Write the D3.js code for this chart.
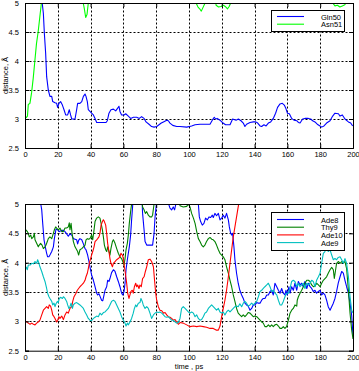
<!DOCTYPE html>
<html><head><meta charset="utf-8">
<script src="https://cdn.jsdelivr.net/npm/d3@7"></script>
<style>
body{margin:0;background:#fff;}
text{font-family:"Liberation Sans",Arial,sans-serif;font-size:7.5px;fill:#000;}
</style></head><body>
<svg id="c" width="359" height="371"></svg>
<script>
// ---- data ----
const timeTicks = [0,20,40,60,80,100,120,140,160,180,200];
const distTicks = [2.5,3,3.5,4,4.5,5];
const xLabel = "time , ps";
const yLabel = "distance, Å";

const topNames = ["Gln50","Asn51"];
const topColors = ["#0000ff","#00ff00"];
const bottomNames = ["Ade8","Thy9","Ade10","Ade9"];
const bottomColors = ["#0000ff","#008000","#ff0000","#00bfbf"];

const gln50 = [[10,5.3],[10.5,5.0],[11.2,4.82],[11.8,4.48],[12.6,4.13],[13.2,3.73],[14.2,3.5],[15.2,3.39],[16.3,3.39],[16.9,3.30],[18.3,3.28],[19.3,3.27],[19.9,3.20],[20.7,3.27],[21.7,3.30],[22.8,3.24],[23.8,3.16],[24.8,3.07],[26,3.07],[27,3.16],[27.8,3.07],[28.5,3.0],[30.5,3.0],[31.5,3.16],[32.1,3.27],[33.5,3.27],[34.6,3.30],[35.6,3.39],[36.6,3.43],[37.2,3.39],[38,3.30],[38.6,3.16],[39.6,3.13],[40.6,3.10],[41.7,3.07],[42.7,3.01],[43.7,2.94],[45.7,2.94],[49.4,2.94],[50.2,2.97],[51.2,3.10],[52.4,3.16],[53.9,3.17],[55.3,3.14],[56.3,3.18],[57.3,3.22],[57.9,3.13],[58.9,3.07],[60.4,3.07],[61.4,3.09],[63,3.05],[64.4,3.01],[66.1,3.03],[68.1,3.03],[69.7,3.01],[71.1,3.04],[72.6,3.01],[73.8,2.95],[75.6,2.91],[77.2,2.87],[78.7,2.86],[80.3,2.87],[81.7,2.90],[83.1,2.93],[84.4,2.95],[86.4,2.98],[87.4,2.97],[88.4,2.93],[90.1,2.89],[92.5,2.87],[94.5,2.87],[98.6,2.86],[101.6,2.88],[103.7,2.90],[106.7,2.91],[112.8,2.91],[114.2,2.98],[115.4,3.03],[116.2,3.0],[117.2,3.01],[118.9,2.98],[120.3,2.94],[122.3,2.90],[125,2.90],[126.6,3.0],[128.7,2.98],[130.1,3.0],[131.7,2.97],[133.1,2.93],[134.1,2.87],[135.1,2.91],[137.2,2.94],[139.2,2.95],[140.7,2.95],[141.9,2.93],[143.3,2.88],[144.3,2.87],[145.7,2.90],[147,2.88],[148.4,2.93],[149.8,2.95],[151.4,3.01],[152.8,3.10],[154,3.20],[155.5,3.26],[156.9,3.27],[158.1,3.24],[159.1,3.18],[160,3.10],[161.2,3.09],[162.6,3.01],[164,2.98],[165.7,2.97],[166.7,2.94],[167.7,2.93],[169.3,3.0],[170.7,3.01],[172.8,3.01],[174.2,3.0],[175.4,2.97],[176.8,2.95],[178.2,2.91],[179.9,2.88],[180.9,2.86],[182.3,2.88],[183.9,2.93],[186,2.97],[187.6,3.05],[189,3.10],[191.1,3.09],[192.1,3.05],[193.5,3.07],[195.1,3.0],[197.2,2.95],[198.6,2.93],[199.8,2.88]];

const asn51 = [[0.6,3.02],[1.5,3.05],[2,3.25],[3,3.27],[4,3.45],[5,3.7],[6,4.0],[7,4.3],[8,4.5],[9,4.75],[10,5.0],[11,5.5],[34,5.5],[35.5,5.0],[36.2,4.9],[37,4.75],[37.8,4.8],[38.6,5.0],[39.5,5.5],[103,5.5],[104.3,5.0],[105.5,4.93],[106.5,4.9],[107.5,4.86],[108.5,4.92],[109.8,5.0],[110.8,5.5],[115.5,5.5],[116.5,4.96],[118,4.93],[119.5,4.94],[121,4.96],[122.5,4.93],[123.5,4.9],[124.5,4.94],[125.4,5.0],[126.5,5.5],[186.5,5.5],[187.6,5.0],[189,4.95],[190.5,4.96],[192,4.93],[193.5,4.95],[195,4.97],[195.7,5.0],[196.7,5.5],[200,5.5]];

const ade8 = [[9,5.3],[9.6,5.0],[10.2,4.90],[10.8,4.67],[11.6,4.39],[12.6,4.24],[13.2,4.16],[13.8,4.10],[14.6,4.10],[15.2,4.13],[16.3,4.19],[17.3,4.27],[17.9,4.41],[18.9,4.57],[19.9,4.56],[20.9,4.53],[22.4,4.55],[23.4,4.55],[24.4,4.53],[25.4,4.49],[26.4,4.45],[27.4,4.49],[28.5,4.47],[29.5,4.41],[30.5,4.40],[31.5,4.39],[32.1,4.32],[32.7,4.38],[33.5,4.41],[34.6,4.39],[35.6,4.32],[36.6,4.24],[37.2,4.22],[38.2,4.13],[39,4.02],[39.6,3.93],[40.6,3.79],[41.7,3.70],[42.7,3.59],[43.7,3.48],[44.3,3.45],[45.1,3.47],[45.7,3.43],[46.7,3.36],[47.4,3.35],[48.2,3.45],[48.8,3.53],[49.8,3.59],[50.4,3.70],[51.2,3.68],[51.8,3.73],[52.8,3.83],[53.9,3.88],[54.9,3.85],[55.9,3.76],[56.9,3.68],[57.9,3.59],[58.9,3.48],[59.6,3.45],[60.4,3.51],[61,3.65],[61.6,3.88],[62.4,4.05],[63,4.16],[63.6,4.27],[64.4,4.47],[65,4.73],[65.6,4.95],[66.2,5.3],[71,5.3],[71.7,4.84],[72.6,4.56],[73.2,4.36],[74.2,4.30],[76.2,4.30],[77.8,4.30],[78.7,4.5],[79.3,4.78],[80.3,5.05],[81,5.3],[87,5.3],[87.6,5.0],[88.4,4.93],[89.4,4.9],[90.4,4.95],[91.2,4.9],[92,5.0],[92.6,5.3],[105,5.3],[105.7,5.0],[106.3,4.78],[107.1,4.70],[108.1,4.64],[109.1,4.67],[110.1,4.76],[111.2,4.73],[112.2,4.78],[113.2,4.77],[114.2,4.81],[114.8,4.77],[115.8,4.84],[116.8,4.80],[117.9,4.84],[118.9,4.73],[119.9,4.76],[120.9,4.81],[121.9,4.76],[122.9,4.84],[124,4.73],[124.6,4.61],[125.4,4.5],[126,4.47],[126.6,4.5],[127.4,4.27],[128,4.05],[129,3.82],[130,3.65],[131,3.53],[132.1,3.45],[133.1,3.39],[134.1,3.31],[135.1,3.28],[136.1,3.26],[137.2,3.19],[138.2,3.22],[139.2,3.28],[140.2,3.28],[141.3,3.32],[142.3,3.31],[143.3,3.31],[144.3,3.36],[145.3,3.39],[146.3,3.39],[147.4,3.45],[148.4,3.45],[149.4,3.51],[150.4,3.53],[151.4,3.45],[152.4,3.65],[153.5,3.59],[154.5,3.53],[155.5,3.48],[156.5,3.56],[157.5,3.48],[158.5,3.45],[159.1,3.53],[159.9,3.45],[160.9,3.59],[161.6,3.48],[162.6,3.59],[163.6,3.53],[164.6,3.65],[165.7,3.53],[166.7,3.68],[167.7,3.62],[168.7,3.65],[169.7,3.59],[170.7,3.68],[171.8,3.56],[172.8,3.65],[173.8,3.59],[174.8,3.56],[175.8,3.51],[176.8,3.53],[177.8,3.48],[178.9,3.51],[179.9,3.53],[180.9,3.45],[181.9,3.48],[182.9,3.45],[183.9,3.36],[184.9,3.25],[186,3.19],[187,3.25],[188,3.31],[189,3.39],[190,3.51],[191,3.65],[192.1,3.76],[193.1,3.85],[194.1,3.82],[195.1,3.70],[196.1,3.59],[197.2,3.48],[198.2,3.31],[199.2,3.1],[200,2.75]];

const thy9 = [[0.6,4.56],[1.4,4.53],[2,4.5],[2.6,4.44],[3.5,4.47],[4.1,4.41],[5.1,4.44],[5.7,4.5],[6.1,4.39],[7.1,4.33],[8.1,4.27],[8.7,4.30],[9.5,4.33],[10.4,4.30],[11.2,4.24],[12.2,4.27],[12.8,4.30],[13.6,4.36],[14.2,4.41],[15.2,4.44],[16.3,4.41],[17.3,4.5],[17.9,4.56],[18.7,4.61],[19.3,4.59],[20.3,4.56],[21.3,4.59],[22.4,4.53],[23.4,4.53],[24.4,4.59],[25.4,4.59],[26.4,4.61],[27,4.68],[27.4,4.56],[28.1,4.67],[28.7,4.5],[29.5,4.36],[30.5,4.27],[31.1,4.24],[32.1,4.19],[32.7,4.13],[33.5,4.22],[34.6,4.24],[35.6,4.27],[36.6,4.30],[37.2,4.39],[38,4.41],[38.6,4.40],[39.6,4.41],[40.6,4.47],[41.3,4.39],[42.1,4.56],[42.7,4.70],[43.7,4.76],[44.7,4.78],[45.7,4.76],[46.4,4.67],[47.2,4.56],[47.8,4.44],[48.4,4.30],[49.2,4.22],[49.8,4.19],[50.4,4.27],[51.2,4.19],[51.8,4.13],[52.4,4.24],[53.3,4.36],[53.9,4.39],[54.9,4.33],[55.9,4.24],[56.9,4.16],[57.9,4.10],[58.9,4.07],[59.6,4.02],[60.4,3.96],[61,4.07],[61.6,4.22],[62.4,4.33],[63,4.47],[63.6,4.67],[64.4,4.87],[65,5.0],[65.6,5.3],[70.8,5.3],[71.7,4.95],[72.6,4.90],[73.4,4.84],[74.2,4.87],[75.2,4.81],[76.2,4.78],[77.2,4.78],[77.8,4.81],[78.7,5.0],[79.3,5.3],[94,5.3],[94.5,4.97],[96.5,4.95],[98.6,4.96],[99.6,5.0],[100.6,4.95],[101.6,4.84],[102.7,4.76],[103.7,4.67],[104.7,4.53],[105.7,4.41],[106.7,4.36],[107.7,4.30],[108.7,4.27],[109.7,4.30],[110.7,4.36],[111.8,4.41],[112.8,4.43],[113.8,4.40],[114.8,4.39],[115.8,4.36],[116.8,4.30],[117.9,4.22],[118.9,4.16],[119.9,4.13],[120.9,4.10],[121.9,4.05],[122.9,3.93],[124,3.82],[125,3.70],[126,3.59],[127,3.45],[128,3.34],[129,3.22],[130,3.14],[131,3.11],[132.1,3.08],[133.1,3.11],[134.1,3.08],[135.1,3.11],[136.1,3.15],[137.2,3.14],[138.2,3.11],[139.2,3.08],[140.2,3.09],[141.3,3.08],[142.3,3.05],[143.3,3.02],[144.3,2.99],[145.3,2.97],[146.3,2.91],[147.4,2.91],[148.4,2.94],[149.4,2.91],[150.4,2.94],[151.4,2.91],[152.4,2.94],[153.5,2.95],[154.5,2.92],[155.5,2.88],[156.5,2.88],[157.5,2.91],[158.5,2.88],[159.5,2.91],[160.6,3.02],[161.6,3.14],[162.6,3.19],[163.6,3.22],[164.6,3.28],[165.7,3.26],[166,3.36],[166.7,3.42],[167.7,3.48],[168.7,3.53],[169.7,3.59],[170.7,3.65],[171.8,3.70],[172.8,3.70],[173.8,3.68],[174.8,3.62],[175.8,3.59],[176.8,3.60],[177.8,3.65],[178.9,3.62],[179.9,3.59],[180.9,3.65],[181.9,3.70],[182.9,3.73],[183.9,3.76],[184.9,3.82],[186,3.88],[187,3.92],[188,3.88],[188.6,3.73],[189.4,3.88],[190,3.99],[191,4.02],[192.1,3.99],[193.1,4.02],[194.1,4.0],[195.1,4.02],[196.1,3.90],[197.2,3.53],[198.2,3.14],[199.2,2.85],[200,2.70]];

const ade10 = [[0.6,3.0],[2,2.97],[3.1,2.95],[4.1,2.97],[5.1,2.95],[6.1,2.94],[7.1,2.97],[8.1,2.99],[9.1,3.02],[10.2,3.11],[11.2,3.19],[12.2,3.22],[13.2,3.25],[14.2,3.22],[14.8,3.28],[15.6,3.26],[16.3,3.19],[16.9,3.11],[17.7,3.08],[18.3,3.05],[19.3,2.99],[19.9,3.02],[20.7,3.08],[21.3,3.05],[22.4,3.09],[23.4,3.03],[24.4,3.11],[25.4,3.16],[26.4,3.14],[27.4,3.22],[28.5,3.25],[29.1,3.34],[29.9,3.42],[30.5,3.45],[31.1,3.48],[31.9,3.53],[32.7,3.56],[33.5,3.59],[34.6,3.62],[35.6,3.65],[36.6,3.70],[37.2,3.76],[38,3.82],[38.6,3.90],[39.2,3.99],[40,4.07],[40.6,4.13],[41.3,4.19],[42.1,4.27],[42.7,4.36],[43.7,4.39],[44.3,4.41],[45.1,4.44],[45.7,4.5],[46.4,4.64],[47.2,4.70],[47.8,4.73],[48.4,4.70],[49.2,4.64],[49.8,4.5],[50.4,4.33],[51.2,4.19],[51.8,4.07],[52.4,3.99],[53.3,3.93],[53.9,3.99],[54.9,4.02],[55.9,4.05],[56.9,4.07],[57.9,4.10],[58.5,4.16],[59.4,4.13],[60,4.07],[60.6,3.93],[61.2,3.82],[62,3.65],[62.6,3.48],[63.4,3.39],[64,3.45],[64.6,3.51],[65.4,3.53],[66,3.48],[66.7,3.59],[67.5,3.65],[68.1,3.59],[68.7,3.62],[69.5,3.56],[70.1,3.62],[70.9,3.59],[71.7,3.73],[72.6,3.76],[73.4,3.85],[74.2,3.93],[75.2,4.05],[76.2,4.06],[77.2,4.02],[78.3,3.93],[78.9,3.73],[79.7,3.48],[80.3,3.36],[81.3,3.25],[82.3,3.19],[83.4,3.18],[84.4,3.14],[85.4,3.15],[86.4,3.11],[87.4,3.08],[88.4,3.07],[89.4,3.05],[90.4,3.02],[91.5,3.03],[92.5,2.99],[93.5,2.95],[94.5,2.98],[96.5,2.97],[98.6,2.94],[100.6,2.91],[102.7,2.92],[104.7,2.91],[106.7,2.92],[108.7,2.91],[110.7,2.90],[112.8,2.88],[114.8,2.88],[116.8,2.85],[117.9,2.85],[118.9,2.92],[119.9,3.08],[120.9,3.22],[121.9,3.36],[122.9,3.53],[124,3.76],[125,3.99],[126,4.22],[127,4.44],[128,4.61],[129,4.78],[130,4.95],[130.6,5.04],[131.5,5.4]];

const ade9 = [[0.6,3.93],[1.4,3.88],[2,3.96],[3.1,3.96],[4.1,3.99],[5.1,3.98],[6.1,4.02],[7.1,3.99],[7.7,4.05],[8.5,3.99],[9.1,3.93],[10.2,3.85],[11.2,3.76],[12.2,3.68],[13.2,3.56],[13.8,3.48],[14.6,3.42],[15.2,3.39],[16.3,3.34],[16.9,3.28],[17.7,3.31],[18.3,3.25],[18.9,3.30],[19.7,3.34],[20.3,3.32],[20.9,3.39],[21.7,3.41],[22.8,3.39],[23.4,3.42],[24.4,3.39],[25.4,3.34],[26,3.28],[26.8,3.22],[27.4,3.25],[28.1,3.31],[28.9,3.22],[29.5,3.28],[30.5,3.31],[31.5,3.32],[32.5,3.30],[33.5,3.28],[34.6,3.25],[35.6,3.22],[36.6,3.16],[37.6,3.11],[38.6,3.05],[39.6,3.02],[40.6,3.01],[41.7,3.05],[42.7,3.07],[43.7,3.09],[44.7,3.08],[45.7,3.14],[46.7,3.11],[47.8,3.15],[48.8,3.16],[49.8,3.19],[50.8,3.22],[51.8,3.28],[52.8,3.34],[53.9,3.36],[54.9,3.34],[55.9,3.28],[56.9,3.22],[57.9,3.16],[58.9,3.08],[60,3.02],[61,2.97],[61.6,2.92],[62.4,2.97],[63,2.94],[64,2.99],[65,3.05],[66,3.14],[66.7,3.22],[67.5,3.28],[68.1,3.25],[69.1,3.31],[70.1,3.32],[70.7,3.39],[71.5,3.34],[72.1,3.28],[73.2,3.22],[74.2,3.25],[75.2,3.22],[76.2,3.14],[77.2,3.05],[78.3,3.11],[79.3,3.14],[80.3,3.16],[81.3,3.15],[82.3,3.16],[83.4,3.14],[84.4,3.11],[85.4,3.08],[86.4,3.07],[87.4,3.08],[88.4,3.05],[89.4,3.02],[90.4,3.02],[91.5,2.99],[92.5,2.97],[93.5,2.98],[94.5,3.05],[95.5,3.22],[96.5,3.25],[97.6,3.22],[98.6,3.19],[99.6,3.16],[100.6,3.14],[101.6,3.16],[102.7,3.14],[103.7,3.08],[104.7,3.11],[105.7,3.05],[106.7,3.02],[107.7,3.03],[108.7,3.08],[109.7,3.14],[110.7,3.16],[111.8,3.22],[112.8,3.25],[113.8,3.28],[114.8,3.25],[115.8,3.22],[116.8,3.19],[117.9,3.22],[118.9,3.16],[119.9,3.14],[120.9,3.16],[121.9,3.11],[122.9,3.16],[124,3.19],[125,3.16],[126,3.19],[127,3.22],[128,3.25],[129,3.26],[130,3.25],[131,3.30],[132.1,3.25],[133.1,3.31],[134.1,3.34],[135.1,3.31],[136.1,3.26],[137.2,3.28],[138.2,3.31],[139.2,3.28],[140.2,3.31],[141.3,3.34],[142.3,3.42],[143.3,3.51],[144.3,3.53],[145.3,3.56],[146.3,3.59],[147.4,3.62],[148.4,3.65],[149.4,3.59],[150.4,3.51],[151.4,3.53],[152.4,3.48],[153.5,3.45],[154.5,3.36],[155.5,3.28],[156.5,3.28],[157.5,3.34],[158.5,3.42],[159.5,3.48],[160.6,3.48],[161.6,3.56],[162.6,3.68],[163.6,3.70],[164.6,3.68],[165.7,3.59],[166.7,3.65],[167.7,3.59],[168.7,3.62],[169.7,3.65],[170.7,3.56],[171.8,3.65],[172.8,3.62],[173.8,3.65],[174.8,3.70],[175.8,3.68],[176.8,3.59],[177.8,3.70],[178.9,3.76],[179.9,3.82],[180.9,3.99],[181.9,4.16],[182.9,4.19],[183.4,4.30],[183.9,4.27],[184.9,4.19],[186,4.22],[187,4.13],[188,4.05],[189,4.07],[190,4.05],[191,4.09],[192.1,4.10],[193.1,4.05],[194.1,3.99],[195.1,4.07],[196.1,3.99],[197.2,3.76],[198.2,3.42],[199.2,3.19],[200,3.14]];

// ---- drawing ----
const svg = d3.select("#c");
const L = 25, R = 353;

function panel(id, top, bottom, series, names, colors, legendBox, rowY, showX) {
  const x = d3.scaleLinear().domain([0,200]).range([L,R]);
  const y = d3.scaleLinear().domain([2.5,5]).range([bottom,top]);
  const g = svg.append("g");
  const defs = g.append("defs");
  defs.append("clipPath").attr("id",id).append("rect")
    .attr("x",L).attr("y",top).attr("width",R-L).attr("height",bottom-top);
  // grid (dotted), drawn through the same scales as the data
  const gridV = timeTicks.slice(1,-1).map(t => [[t,2.5],[t,5]]);
  const gridH = distTicks.slice(1,-1).map(v => [[0,v],[200,v]]);
  const gline = d3.line().x(d=>Math.round(x(d[0]))+0.5).y(d=>Math.round(y(d[1]))+0.5);
  g.append("g").selectAll("path").data(gridV.concat(gridH)).join("path")
    .attr("d",gline).attr("fill","none").attr("stroke","#000")
    .attr("stroke-width",1).attr("stroke-dasharray","2,2");
  // lines
  const line = d3.line().x(d=>x(d[0])).y(d=>y(d[1]));
  const lg = g.append("g").attr("clip-path",`url(#${id})`);
  series.forEach((s,i)=> lg.append("path").attr("d",line(s)).attr("fill","none")
    .attr("stroke",colors[i]).attr("stroke-width",1.1).attr("stroke-linejoin","round"));
  // axes
  const ax = g.append("g");
  ax.append("g").attr("transform",`translate(0,${bottom})`)
    .call(d3.axisBottom(x).tickValues(timeTicks).tickSize(-4).tickPadding(4).tickFormat(d3.format("d")));
  ax.append("g").attr("transform",`translate(0,${top})`)
    .call(d3.axisTop(x).tickValues(timeTicks).tickSize(-4).tickFormat(""));
  ax.append("g").attr("transform",`translate(${L},0)`)
    .call(d3.axisLeft(y).tickValues(distTicks).tickSize(-4).tickPadding(6).tickFormat(d=>String(d)));
  ax.append("g").attr("transform",`translate(${R},0)`)
    .call(d3.axisRight(y).tickValues(distTicks).tickSize(-4).tickFormat(""));
  ax.selectAll(".domain").attr("stroke","#000");
  ax.selectAll(".tick line").attr("stroke","#000");
  ax.selectAll(".tick text").style("font-family","'Liberation Sans',Arial,sans-serif").style("font-size","7.5px");
  // y label
  g.append("text").attr("transform",`translate(8,${(top+bottom)/2}) rotate(-90)`)
    .attr("text-anchor","middle").text(yLabel);
  if (showX) g.append("text").attr("x",(L+R)/2).attr("y",bottom+18).attr("text-anchor","middle").text(xLabel);
  // legend
  g.append("rect").attr("x",legendBox[0]+0.5).attr("y",legendBox[1]+0.5)
    .attr("width",legendBox[2]-legendBox[0]).attr("height",legendBox[3]-legendBox[1])
    .attr("fill","#fff").attr("stroke","#000");
  names.forEach((n,i)=>{
    const yy = rowY[0] + i*rowY[1];
    g.append("line").attr("x1",277).attr("x2",304).attr("y1",yy).attr("y2",yy)
      .attr("stroke",colors[i]).attr("stroke-width",1.1);
    g.append("text").attr("x",321).attr("y",yy+3).text(n);
  });
}

panel("clipTop", 3, 148, [gln50, asn51], topNames, topColors, [271,10,344,31], [16.5,7.7], false);
panel("clipBot", 204, 350.7, [ade8, thy9, ade10, ade9], bottomNames, bottomColors, [271,212,344,250], [219.5,7.7], true);
</script>
</body></html>
